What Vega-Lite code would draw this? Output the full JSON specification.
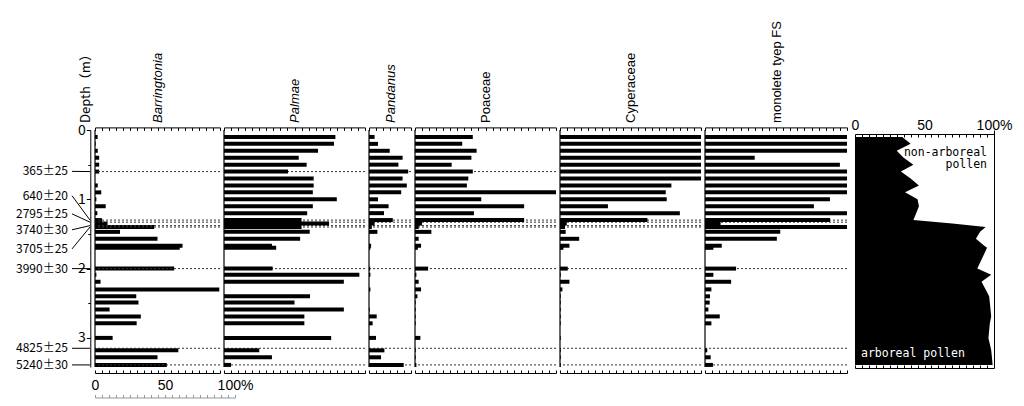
{
  "$schema": "https://vega.github.io/schema/vega-lite/v6.json",
  "background": "white",
  "padding": {"left": 16, "top": 20, "right": 5, "bottom": 5},
  "datasets": {
    "pollen": [
      {"depth":0.10,"Barringtonia":1.9,"Palmae":79,"Pandanus":4,"Poaceae":41,"Cyperaceae":105,"Monolete":105,"Arboreal":34},
      {"depth":0.20,"Barringtonia":0.5,"Palmae":78,"Pandanus":6.4,"Poaceae":33.5,"Cyperaceae":105,"Monolete":105,"Arboreal":40},
      {"depth":0.30,"Barringtonia":2,"Palmae":66.7,"Pandanus":14.8,"Poaceae":43.7,"Cyperaceae":105,"Monolete":105,"Arboreal":30},
      {"depth":0.40,"Barringtonia":3,"Palmae":53,"Pandanus":24,"Poaceae":40,"Cyperaceae":105,"Monolete":35,"Arboreal":35},
      {"depth":0.50,"Barringtonia":3,"Palmae":58.6,"Pandanus":21,"Poaceae":26,"Cyperaceae":105,"Monolete":95,"Arboreal":42},
      {"depth":0.60,"Barringtonia":3,"Palmae":45.4,"Pandanus":28,"Poaceae":41,"Cyperaceae":105,"Monolete":105,"Arboreal":33},
      {"depth":0.70,"Barringtonia":0,"Palmae":63.6,"Pandanus":24,"Poaceae":37.8,"Cyperaceae":105,"Monolete":105,"Arboreal":40},
      {"depth":0.80,"Barringtonia":2,"Palmae":63.6,"Pandanus":27,"Poaceae":36.8,"Cyperaceae":79,"Monolete":105,"Arboreal":46},
      {"depth":0.90,"Barringtonia":4.5,"Palmae":63,"Pandanus":23,"Poaceae":105,"Cyperaceae":75,"Monolete":105,"Arboreal":36},
      {"depth":1.00,"Barringtonia":1,"Palmae":80,"Pandanus":6.4,"Poaceae":47,"Cyperaceae":75.7,"Monolete":88,"Arboreal":45},
      {"depth":1.10,"Barringtonia":7.7,"Palmae":63,"Pandanus":14,"Poaceae":77.4,"Cyperaceae":34,"Monolete":76.7,"Arboreal":46},
      {"depth":1.20,"Barringtonia":1.7,"Palmae":59,"Pandanus":10.7,"Poaceae":41.8,"Cyperaceae":85,"Monolete":105,"Arboreal":44},
      {"depth":1.30,"Barringtonia":5,"Palmae":55,"Pandanus":17,"Poaceae":77.4,"Cyperaceae":62,"Monolete":88,"Arboreal":42},
      {"depth":1.35,"Barringtonia":9,"Palmae":74.5,"Pandanus":4,"Poaceae":5,"Cyperaceae":4.8,"Monolete":11,"Arboreal":70},
      {"depth":1.40,"Barringtonia":42.6,"Palmae":55,"Pandanus":2,"Poaceae":2.6,"Cyperaceae":3.6,"Monolete":105,"Arboreal":94},
      {"depth":1.47,"Barringtonia":18,"Palmae":60.8,"Pandanus":6,"Poaceae":11.6,"Cyperaceae":4,"Monolete":53,"Arboreal":90},
      {"depth":1.57,"Barringtonia":45,"Palmae":54,"Pandanus":0,"Poaceae":2.6,"Cyperaceae":13.6,"Monolete":50.6,"Arboreal":87},
      {"depth":1.67,"Barringtonia":63,"Palmae":34,"Pandanus":1.5,"Poaceae":4.3,"Cyperaceae":6.7,"Monolete":11.8,"Arboreal":93},
      {"depth":1.70,"Barringtonia":61,"Palmae":37,"Pandanus":1,"Poaceae":2,"Cyperaceae":2.4,"Monolete":5.9,"Arboreal":95},
      {"depth":2.00,"Barringtonia":57,"Palmae":34.5,"Pandanus":0.8,"Poaceae":9.3,"Cyperaceae":5.5,"Monolete":21.9,"Arboreal":88},
      {"depth":2.09,"Barringtonia":1,"Palmae":96,"Pandanus":1,"Poaceae":1,"Cyperaceae":0.5,"Monolete":5.9,"Arboreal":98},
      {"depth":2.19,"Barringtonia":4,"Palmae":85,"Pandanus":0,"Poaceae":2.6,"Cyperaceae":6.7,"Monolete":18.4,"Arboreal":91},
      {"depth":2.30,"Barringtonia":89.5,"Palmae":0,"Pandanus":1,"Poaceae":4.3,"Cyperaceae":1.7,"Monolete":4.5,"Arboreal":94},
      {"depth":2.40,"Barringtonia":29.7,"Palmae":61,"Pandanus":0,"Poaceae":1.7,"Cyperaceae":0.5,"Monolete":3.5,"Arboreal":96.5},
      {"depth":2.49,"Barringtonia":31.3,"Palmae":50,"Pandanus":0,"Poaceae":0.5,"Cyperaceae":0.5,"Monolete":3.3,"Arboreal":97},
      {"depth":2.59,"Barringtonia":10.5,"Palmae":85,"Pandanus":0.5,"Poaceae":0.5,"Cyperaceae":0.5,"Monolete":2.4,"Arboreal":97.5},
      {"depth":2.69,"Barringtonia":33,"Palmae":57,"Pandanus":5.5,"Poaceae":0.5,"Cyperaceae":0.5,"Monolete":10.4,"Arboreal":98},
      {"depth":2.79,"Barringtonia":30,"Palmae":57,"Pandanus":2.6,"Poaceae":0.5,"Cyperaceae":0.5,"Monolete":4.5,"Arboreal":97},
      {"depth":3.00,"Barringtonia":12.7,"Palmae":76,"Pandanus":5,"Poaceae":3.8,"Cyperaceae":0.5,"Monolete":0,"Arboreal":96},
      {"depth":3.18,"Barringtonia":60,"Palmae":25,"Pandanus":11,"Poaceae":0.5,"Cyperaceae":0.5,"Monolete":1.6,"Arboreal":98},
      {"depth":3.28,"Barringtonia":45,"Palmae":34,"Pandanus":8.6,"Poaceae":0.5,"Cyperaceae":0.5,"Monolete":4,"Arboreal":98.5},
      {"depth":3.39,"Barringtonia":51.7,"Palmae":5,"Pandanus":24.8,"Poaceae":1,"Cyperaceae":0.5,"Monolete":5.6,"Arboreal":99}
    ],
    "dates": [
      {"date":"365±25","depth":0.60,"labelDepth":0.597},
      {"date":"640±20","depth":1.30,"labelDepth":0.948},
      {"date":"2795±25","depth":1.33,"labelDepth":1.21},
      {"date":"3740±30","depth":1.38,"labelDepth":1.44},
      {"date":"3705±25","depth":1.40,"labelDepth":1.716},
      {"date":"3990±30","depth":2.00,"labelDepth":2.0},
      {"date":"4825±25","depth":3.15,"labelDepth":3.15},
      {"date":"5240±30","depth":3.39,"labelDepth":3.39}
    ]
  },
  "spacing": 4,
  "bounds": "flush",
  "hconcat": [
    {
      "width": 125, "height": 237,
      "resolve": {"scale": {"x": "independent"}, "axis": {"x": "independent", "y": "independent"}},
      "layer": [
        {"data": {"name": "pollen"}, "mark": {"type": "rule", "strokeWidth": 4, "color": "black", "clip": true},
         "encoding": {
           "y": {"field": "depth", "type": "quantitative", "scale": {"domain": [0,3.42], "reverse": true, "nice": false, "zero": false},
                 "axis": {"orient": "left", "offset": 4.7, "values": [0,0.5,1,1.5,2,2.5,3], "labelExpr": "datum.value % 1 === 0 ? format(datum.value, 'd') : ''",
                          "tickSize": {"condition": {"test": "datum.value % 1 === 0", "value": 4}, "value": 2.5},
                          "labelFont": "Noto Sans CJK JP", "labelFontSize": 14, "labelPadding": 1, "labelFlush": false, "labelOverlap": false,
                          "title": "Depth（m）", "titleAngle": 270, "titleAlign": "left", "titleBaseline": "middle", "titleX": -5, "titleY": -7.6,
                          "titleFont": "Noto Sans CJK JP", "titleFontSize": 13, "titleFontWeight": "normal"}},
           "x": {"field": "Barringtonia", "type": "quantitative", "scale": {"domain": [0,90], "nice": false},
                 "axis": {"orient": "top", "offset": 2.6, "values": [0,5,10,15,20,25,30,35,40,45,50,55,60,65,70,75,80,85,90], "labels": false, "tickSize": -3,
                          "title": "Barringtonia", "titleAngle": 270, "titleAlign": "left", "titleBaseline": "middle", "titleX": 62.5, "titleY": -5,
                          "titleFont": "Liberation Sans", "titleFontSize": 13, "titleFontStyle": "italic", "titleFontWeight": "normal"}},
           "x2": {"datum": 0}}},
        {"data": {"name": "dates"}, "mark": {"type": "rule", "strokeDash": [2,2], "color": "#333", "strokeWidth": 1},
         "encoding": {"y": {"field": "depth", "type": "quantitative", "scale": {"domain": [0,3.42], "reverse": true, "nice": false, "zero": false}, "axis": null}}},
        {"data": {"values": [{}]}, "mark": {"type": "rule", "color": "black", "strokeWidth": 1.2},
         "encoding": {"x": {"datum": 0, "type": "quantitative", "scale": {"domain": [0,90], "nice": false},
                            "axis": {"orient": "bottom", "offset": 6, "values": [0,5,10,15,20,25,30,35,40,45,50,55,60,65,70,75,80,85,90], "labels": false, "tickSize": -3, "title": null}}}},
        {"data": {"values": [{}]}, "mark": {"type": "rule", "opacity": 0},
         "encoding": {"x": {"datum": 0, "type": "quantitative", "scale": {"domain": [0,100], "range": [0,140], "nice": false},
                            "axis": {"orient": "top", "offset": -267.5, "values": [0,5,10,15,20,25,30,35,40,45,50,55,60,65,70,75,80,85,90,95,100],
                                     "labelExpr": "datum.value === 100 ? '100%' : (datum.value % 50 === 0 ? datum.label : '')",
                                     "tickSize": 3, "labelPadding": 2, "labelFont": "Liberation Sans", "labelFontSize": 14, "labelFlush": false, "labelOverlap": false,
                                     "domainColor": "#999", "tickColor": "#999", "title": null}}}},
        {"data": {"name": "dates"}, "mark": {"type": "text", "align": "right", "baseline": "middle", "dx": -27, "font": "Noto Sans CJK JP", "fontSize": 12, "color": "black"},
         "encoding": {
           "y": {"field": "labelDepth", "type": "quantitative", "scale": {"domain": [0,3.42], "reverse": true, "nice": false, "zero": false}, "axis": null},
           "x": {"datum": 0, "type": "quantitative", "scale": {"domain": [0,90], "nice": false}, "axis": null},
           "text": {"field": "date"}}},
        {"data": {"name": "dates"}, "mark": {"type": "rule", "color": "black", "strokeWidth": 1, "xOffset": -23, "x2Offset": -5},
         "encoding": {
           "y": {"field": "labelDepth", "type": "quantitative", "scale": {"domain": [0,3.42], "reverse": true, "nice": false, "zero": false}, "axis": null},
           "y2": {"field": "depth"},
           "x": {"datum": 0, "type": "quantitative", "scale": {"domain": [0,90], "nice": false}, "axis": null},
           "x2": {"datum": 0}}}
      ]
    },
    {
      "width": 141, "height": 237,
      "resolve": {"axis": {"x": "independent"}},
      "layer": [
        {"data": {"name": "dates"}, "mark": {"type": "rule", "strokeDash": [2,2], "color": "#333", "strokeWidth": 1},
         "encoding": {"y": {"field": "depth", "type": "quantitative", "scale": {"domain": [0,3.42], "reverse": true, "nice": false, "zero": false}, "axis": null}}},
        {"data": {"name": "pollen"}, "mark": {"type": "rule", "strokeWidth": 4, "color": "black", "clip": true},
         "encoding": {
           "y": {"field": "depth", "type": "quantitative", "scale": {"domain": [0,3.42], "reverse": true, "nice": false, "zero": false}, "axis": null},
           "x": {"field": "Palmae", "type": "quantitative", "scale": {"domain": [0,100], "nice": false},
                 "axis": {"orient": "top", "offset": 2.6, "values": [0,5,10,15,20,25,30,35,40,45,50,55,60,65,70,75,80,85,90,95,100], "labels": false, "tickSize": -3,
                          "title": "Palmae", "titleAngle": 270, "titleAlign": "left", "titleBaseline": "middle", "titleX": 70.5, "titleY": -5,
                          "titleFont": "Liberation Sans", "titleFontSize": 13, "titleFontStyle": "italic", "titleFontWeight": "normal"}},
           "x2": {"datum": 0}}},
        {"data": {"values": [{}]}, "mark": {"type": "rule", "color": "black", "strokeWidth": 1.2},
         "encoding": {"x": {"datum": 0, "type": "quantitative", "scale": {"domain": [0,100], "nice": false},
                            "axis": {"orient": "bottom", "offset": 6, "values": [0,5,10,15,20,25,30,35,40,45,50,55,60,65,70,75,80,85,90,95,100], "labels": false, "tickSize": -3, "title": null}}}}
      ]
    },
    {
      "width": 42, "height": 237,
      "resolve": {"axis": {"x": "independent"}},
      "layer": [
        {"data": {"name": "dates"}, "mark": {"type": "rule", "strokeDash": [2,2], "color": "#333", "strokeWidth": 1},
         "encoding": {"y": {"field": "depth", "type": "quantitative", "scale": {"domain": [0,3.42], "reverse": true, "nice": false, "zero": false}, "axis": null}}},
        {"data": {"name": "pollen"}, "mark": {"type": "rule", "strokeWidth": 4, "color": "black", "clip": true},
         "encoding": {
           "y": {"field": "depth", "type": "quantitative", "scale": {"domain": [0,3.42], "reverse": true, "nice": false, "zero": false}, "axis": null},
           "x": {"field": "Pandanus", "type": "quantitative", "scale": {"domain": [0,30], "nice": false},
                 "axis": {"orient": "top", "offset": 2.6, "values": [0,5,10,15,20,25,30], "labels": false, "tickSize": -3,
                          "title": "Pandanus", "titleAngle": 270, "titleAlign": "left", "titleBaseline": "middle", "titleX": 21, "titleY": -5,
                          "titleFont": "Liberation Sans", "titleFontSize": 13, "titleFontStyle": "italic", "titleFontWeight": "normal"}},
           "x2": {"datum": 0}}},
        {"data": {"values": [{}]}, "mark": {"type": "rule", "color": "black", "strokeWidth": 1.2},
         "encoding": {"x": {"datum": 0, "type": "quantitative", "scale": {"domain": [0,30], "nice": false},
                            "axis": {"orient": "bottom", "offset": 6, "values": [0,5,10,15,20,25,30], "labels": false, "tickSize": -3, "title": null}}}}
      ]
    },
    {
      "width": 141, "height": 237,
      "resolve": {"axis": {"x": "independent"}},
      "layer": [
        {"data": {"name": "dates"}, "mark": {"type": "rule", "strokeDash": [2,2], "color": "#333", "strokeWidth": 1},
         "encoding": {"y": {"field": "depth", "type": "quantitative", "scale": {"domain": [0,3.42], "reverse": true, "nice": false, "zero": false}, "axis": null}}},
        {"data": {"name": "pollen"}, "mark": {"type": "rule", "strokeWidth": 4, "color": "black", "clip": true},
         "encoding": {
           "y": {"field": "depth", "type": "quantitative", "scale": {"domain": [0,3.42], "reverse": true, "nice": false, "zero": false}, "axis": null},
           "x": {"field": "Poaceae", "type": "quantitative", "scale": {"domain": [0,100], "nice": false},
                 "axis": {"orient": "top", "offset": 2.6, "values": [0,5,10,15,20,25,30,35,40,45,50,55,60,65,70,75,80,85,90,95,100], "labels": false, "tickSize": -3,
                          "title": "Poaceae", "titleAngle": 270, "titleAlign": "left", "titleBaseline": "middle", "titleX": 70.5, "titleY": -5,
                          "titleFont": "Liberation Sans", "titleFontSize": 13, "titleFontWeight": "normal"}},
           "x2": {"datum": 0}}},
        {"data": {"values": [{}]}, "mark": {"type": "rule", "color": "black", "strokeWidth": 1.2},
         "encoding": {"x": {"datum": 0, "type": "quantitative", "scale": {"domain": [0,100], "nice": false},
                            "axis": {"orient": "bottom", "offset": 6, "values": [0,5,10,15,20,25,30,35,40,45,50,55,60,65,70,75,80,85,90,95,100], "labels": false, "tickSize": -3, "title": null}}}}
      ]
    },
    {
      "width": 141, "height": 237,
      "resolve": {"axis": {"x": "independent"}},
      "layer": [
        {"data": {"name": "dates"}, "mark": {"type": "rule", "strokeDash": [2,2], "color": "#333", "strokeWidth": 1},
         "encoding": {"y": {"field": "depth", "type": "quantitative", "scale": {"domain": [0,3.42], "reverse": true, "nice": false, "zero": false}, "axis": null}}},
        {"data": {"name": "pollen"}, "mark": {"type": "rule", "strokeWidth": 4, "color": "black", "clip": true},
         "encoding": {
           "y": {"field": "depth", "type": "quantitative", "scale": {"domain": [0,3.42], "reverse": true, "nice": false, "zero": false}, "axis": null},
           "x": {"field": "Cyperaceae", "type": "quantitative", "scale": {"domain": [0,100], "nice": false},
                 "axis": {"orient": "top", "offset": 2.6, "values": [0,5,10,15,20,25,30,35,40,45,50,55,60,65,70,75,80,85,90,95,100], "labels": false, "tickSize": -3,
                          "title": "Cyperaceae", "titleAngle": 270, "titleAlign": "left", "titleBaseline": "middle", "titleX": 70.5, "titleY": -5,
                          "titleFont": "Liberation Sans", "titleFontSize": 13, "titleFontWeight": "normal"}},
           "x2": {"datum": 0}}},
        {"data": {"values": [{}]}, "mark": {"type": "rule", "color": "black", "strokeWidth": 1.2},
         "encoding": {"x": {"datum": 0, "type": "quantitative", "scale": {"domain": [0,100], "nice": false},
                            "axis": {"orient": "bottom", "offset": 6, "values": [0,5,10,15,20,25,30,35,40,45,50,55,60,65,70,75,80,85,90,95,100], "labels": false, "tickSize": -3, "title": null}}}}
      ]
    },
    {
      "width": 142, "height": 237,
      "resolve": {"axis": {"x": "independent"}},
      "layer": [
        {"data": {"name": "dates"}, "mark": {"type": "rule", "strokeDash": [2,2], "color": "#333", "strokeWidth": 1},
         "encoding": {"y": {"field": "depth", "type": "quantitative", "scale": {"domain": [0,3.42], "reverse": true, "nice": false, "zero": false}, "axis": null}}},
        {"data": {"name": "pollen"}, "mark": {"type": "rule", "strokeWidth": 4, "color": "black", "clip": true},
         "encoding": {
           "y": {"field": "depth", "type": "quantitative", "scale": {"domain": [0,3.42], "reverse": true, "nice": false, "zero": false}, "axis": null},
           "x": {"field": "Monolete", "type": "quantitative", "scale": {"domain": [0,100], "nice": false},
                 "axis": {"orient": "top", "offset": 2.6, "values": [0,5,10,15,20,25,30,35,40,45,50,55,60,65,70,75,80,85,90,95,100], "labels": false, "tickSize": -3,
                          "title": "monolete tyep FS", "titleAngle": 270, "titleAlign": "left", "titleBaseline": "middle", "titleX": 71, "titleY": -5,
                          "titleFont": "Liberation Sans", "titleFontSize": 13, "titleFontWeight": "normal"}},
           "x2": {"datum": 0}}},
        {"data": {"values": [{}]}, "mark": {"type": "rule", "color": "black", "strokeWidth": 1.2},
         "encoding": {"x": {"datum": 0, "type": "quantitative", "scale": {"domain": [0,100], "nice": false},
                            "axis": {"orient": "bottom", "offset": 6, "values": [0,5,10,15,20,25,30,35,40,45,50,55,60,65,70,75,80,85,90,95,100], "labels": false, "tickSize": -3, "title": null}}}}
      ]
    },
    {
      "width": 143, "height": 237,
      "resolve": {"axis": {"x": "independent", "y": "independent"}},
      "layer": [
        {"data": {"name": "pollen"}, "mark": {"type": "area", "orient": "horizontal", "color": "black"},
         "encoding": {
           "y": {"field": "depth", "type": "quantitative", "scale": {"domain": [0,3.42], "reverse": true, "nice": false, "zero": false},
                 "axis": {"orient": "right", "ticks": false, "labels": false, "title": null}},
           "x": {"field": "Arboreal", "type": "quantitative", "scale": {"domain": [0,100], "range": [4,143], "nice": false},
                 "axis": {"orient": "top", "offset": -4, "values": [0,5,10,15,20,25,30,35,40,45,50,55,60,65,70,75,80,85,90,95,100], "tickSize": -3,
                          "labelExpr": "datum.value === 100 ? '100%' : (datum.value % 50 === 0 ? datum.label : '')",
                          "labelFont": "Liberation Sans", "labelFontSize": 14, "labelPadding": 5, "labelFlush": false, "labelOverlap": false, "title": null}}}},
        {"data": {"values": [{}]}, "mark": {"type": "text", "text": "arboreal pollen", "align": "left", "baseline": "middle", "dx": 6, "font": "DejaVu Sans Mono", "fontSize": 11.5, "color": "white"},
         "encoding": {
           "x": {"datum": 0, "type": "quantitative", "scale": {"domain": [0,100], "range": [4,143], "nice": false},
                 "axis": {"orient": "bottom", "offset": 1, "values": [0,5,10,15,20,25,30,35,40,45,50,55,60,65,70,75,80,85,90,95,100], "labels": false, "tickSize": -3, "title": null}},
           "y": {"datum": 3.227, "type": "quantitative", "axis": null}}},
        {"data": {"values": [{}]}, "mark": {"type": "text", "text": ["non-arboreal", "pollen"], "align": "right", "baseline": "middle", "dx": -7, "lineHeight": 12, "font": "DejaVu Sans Mono", "fontSize": 11.5, "color": "black"},
         "encoding": {
           "x": {"datum": 100, "type": "quantitative", "axis": null},
           "y": {"datum": 0.33, "type": "quantitative", "axis": null}}}
      ]
    }
  ],
  "config": {
    "view": {"stroke": null},
    "axis": {"grid": false, "domainColor": "black", "tickColor": "black", "labelColor": "black", "titleColor": "black", "domainWidth": 1, "tickWidth": 1}
  }
}
